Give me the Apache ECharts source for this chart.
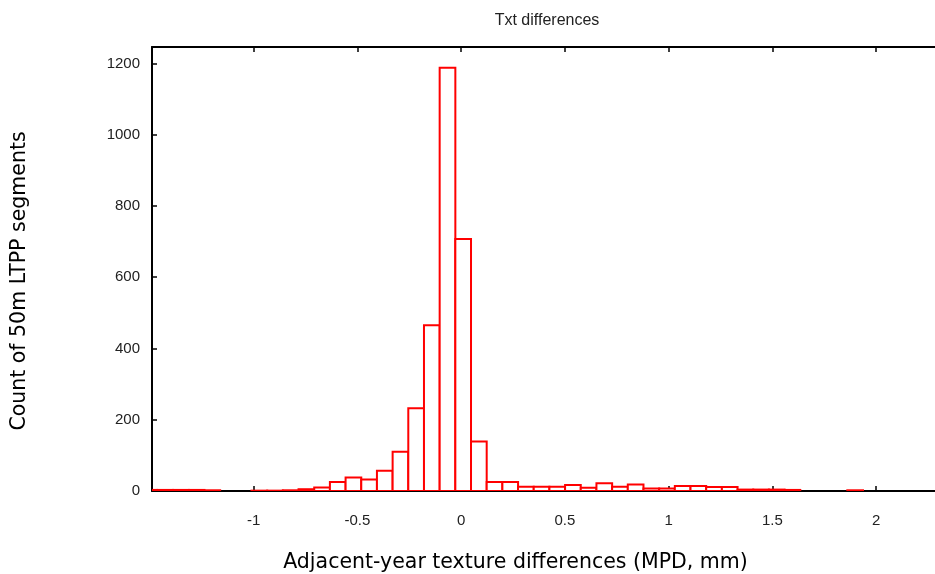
<!DOCTYPE html>
<html>
<head>
<meta charset="utf-8">
<script src="https://cdn.jsdelivr.net/npm/echarts@6/dist/echarts.min.js"></script>
<style>html,body{margin:0;padding:0;background:#fff;}#c{width:935px;height:574px;}</style>
</head>
<body>
<div id="c"></div>
<script>
// Histogram bins (left edge of each bin, MPD mm) and counts
const binWidth = 0.0756;
const binStarts = [
  -1.5394, -1.4638, -1.3882, -1.3127, -1.2371, -1.1615, -1.0860, -1.0104,
  -0.9348, -0.8592, -0.7837, -0.7081, -0.6325, -0.5569, -0.4814, -0.4058,
  -0.3302, -0.2547, -0.1791, -0.1035, -0.0280, 0.0476, 0.1232, 0.1988,
  0.2743, 0.3499, 0.4255, 0.5010, 0.5766, 0.6522, 0.7278, 0.8033,
  0.8789, 0.9545, 1.0300, 1.1056, 1.1812, 1.2568, 1.3323, 1.4079,
  1.4835, 1.5591, 1.6346, 1.7102, 1.7858, 1.8613, 1.9369
];
const counts = [
  3, 3, 3, 3, 2, 0, 0, 1,
  1, 2, 5, 10, 25, 38, 32, 57,
  110, 232, 465, 1188, 707, 139, 25, 25,
  12, 12, 12, 17, 9, 22, 12, 18,
  7, 7, 14, 14, 11, 11, 4, 4,
  4, 3, 0, 0, 0, 2, 0
];
const xTicks = [-1, -0.5, 0, 0.5, 1, 1.5, 2];
const yTicks = [0, 200, 400, 600, 800, 1000, 1200];

const data = binStarts.map((s, i) => [s, s + binWidth, counts[i]]);

const chart = echarts.init(document.getElementById('c'), null, {renderer: 'canvas'});
const axisLineStyle = {color: '#000', width: 2};
chart.setOption({
  backgroundColor: '#fff',
  animation: false,
  title: {
    text: 'Txt differences',
    left: 542, top: 8, textAlign: 'center',
    textStyle: {fontFamily: 'Liberation Sans', fontSize: 16, fontWeight: 'normal', color: '#222'}
  },
  grid: {left: 152, right: 0, top: 47, bottom: 83, containLabel: false, outerBoundsMode: 'none'},
  xAxis: [{
    type: 'value', min: -1.49, max: 2.284,
    name: 'Adjacent-year texture differences (MPD, mm)',
    nameLocation: 'middle', nameGap: 61,
    nameTextStyle: {fontFamily: 'DejaVu Sans', fontSize: 20.5, color: '#000', padding: [0, 56, 0, 0]},
    axisLine: {show: true, onZero: false, lineStyle: axisLineStyle},
    axisTick: {show: true, inside: true, length: 5, customValues: xTicks, lineStyle: {color: '#000', width: 1.5}},
    axisLabel: {customValues: xTicks, margin: 22, fontFamily: 'Liberation Sans', fontSize: 15, color: '#222'},
    splitLine: {show: false}
  }, {
    type: 'value', min: -1.49, max: 2.284, position: 'top',
    axisLine: {show: true, onZero: false, lineStyle: axisLineStyle},
    axisTick: {show: true, inside: true, length: 5, customValues: xTicks, lineStyle: {color: '#000', width: 1.5}},
    axisLabel: {show: false},
    splitLine: {show: false}
  }],
  yAxis: {
    type: 'value', min: 0, max: 1246,
    name: 'Count of 50m LTPP segments',
    nameLocation: 'middle', nameGap: 122, nameRotate: 90,
    nameTextStyle: {fontFamily: 'DejaVu Sans', fontSize: 20.5, color: '#000', padding: [0, 24, 0, 0]},
    axisLine: {show: true, onZero: false, lineStyle: axisLineStyle},
    axisTick: {show: true, inside: true, length: 5, customValues: yTicks, lineStyle: {color: '#000', width: 1.5}},
    axisLabel: {customValues: yTicks, margin: 12, fontFamily: 'Liberation Sans', fontSize: 15, color: '#222',
      formatter: function (v) { return String(v); }},
    splitLine: {show: false}
  },
  series: [{
    type: 'custom',
    xAxisIndex: 0,
    clip: true,
    data: data,
    renderItem: function (params, api) {
      const c = api.value(2);
      if (!c) return null;
      const p0 = api.coord([api.value(0), c]);
      const p1 = api.coord([api.value(1), 0]);
      const rect = echarts.graphic.clipRectByRect(
        {x: p0[0], y: p0[1], width: p1[0] - p0[0], height: p1[1] - p0[1]},
        {x: params.coordSys.x, y: params.coordSys.y, width: params.coordSys.width, height: params.coordSys.height}
      );
      if (!rect) return null;
      return {
        type: 'rect',
        shape: rect,
        style: {fill: '#fff', stroke: '#ff0000', lineWidth: 2}
      };
    },
    encode: {x: [0, 1], y: 2}
  }]
});
</script>
</body>
</html>
